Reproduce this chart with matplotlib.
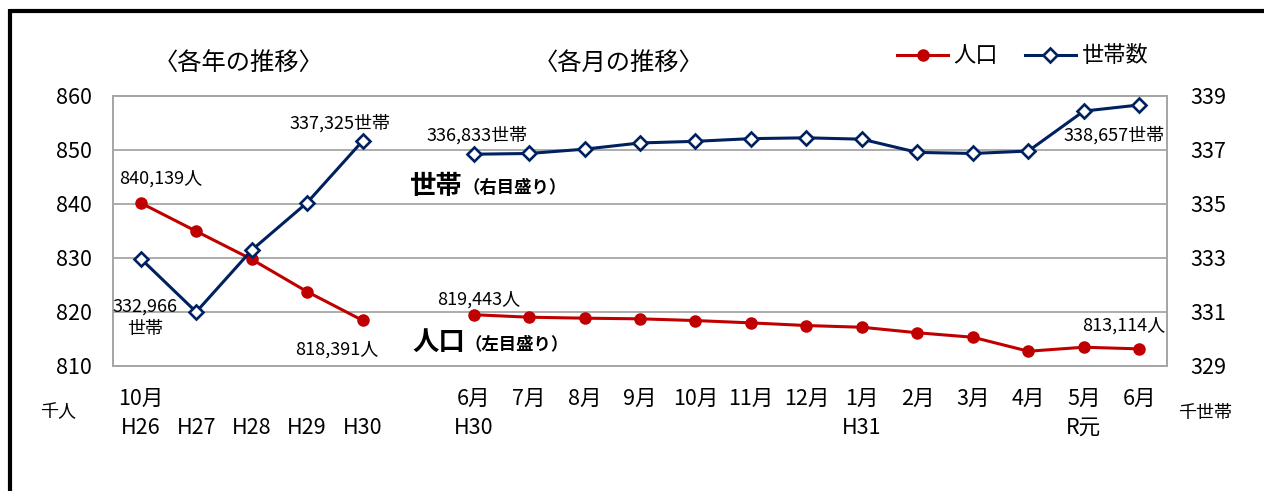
import matplotlib
matplotlib.use("Agg")
import matplotlib.pyplot as plt
from matplotlib.lines import Line2D

plt.rcParams['font.family'] = ['Noto Sans CJK JP', 'DejaVu Sans']

# ---- data ----
year_labels = ["H26", "H27", "H28", "H29", "H30"]
year_month = ["10月", "", "", "", ""]
month_labels = ["6月", "7月", "8月", "9月", "10月", "11月", "12月",
                "1月", "2月", "3月", "4月", "5月", "6月"]
month_era = ["H30", "", "", "", "", "", "", "H31", "", "", "", "R元", ""]

pop_year = [840.139, 834.9, 829.7, 823.7, 818.391]          # 千人
pop_month = [819.443, 818.98, 818.80, 818.68, 818.36, 817.93, 817.44,
             817.12, 816.10, 815.27, 812.68, 813.42, 813.114]
hh_year = [332.966, 330.99, 333.28, 335.04, 337.325]          # 千世帯
hh_month = [336.833, 336.86, 337.02, 337.25, 337.31, 337.41, 337.44,
            337.39, 336.90, 336.86, 336.95, 338.43, 338.657]

left_ticks = [810, 820, 830, 840, 850, 860]
right_ticks = [329, 331, 333, 335, 337, 339]

RED = "#C00000"
NAVY = "#002060"
GRID = "#A6A6A6"

W, H = 1264, 491
fig = plt.figure(figsize=(W / 100, H / 100), dpi=100)

def fx(px):
    return px / W

def fy(py):
    return 1 - py / H

ax = fig.add_axes([fx(113), fy(365.7), fx(1167) - fx(113), fy(95.7) - fy(365.7)])
ax2 = ax.twinx()

xy = list(range(len(pop_year)))
xm = [len(pop_year) + 1 + i for i in range(len(pop_month))]

# population
ax.plot(xy, pop_year, color=RED, lw=2.2, marker="o", ms=8, zorder=3)
ax.plot(xm, pop_month, color=RED, lw=2.2, marker="o", ms=8, zorder=3)
# households
mk = dict(marker="D", ms=7.5, mfc="white", mec=NAVY, mew=1.9)
ax2.plot(xy, hh_year, color=NAVY, lw=2.2, zorder=3, **mk)
ax2.plot(xm, hh_month, color=NAVY, lw=2.2, zorder=3, **mk)

ax.set_xlim(-0.5, xm[-1] + 0.5)
ax.set_ylim(left_ticks[0], left_ticks[-1])
ax2.set_ylim(right_ticks[0], right_ticks[-1])
ax.set_yticks(left_ticks)
ax2.set_yticks(right_ticks)
ax.grid(axis="y", color=GRID, lw=1.3)
ax.set_axisbelow(True)

xt = xy + xm
xl = [f"{m}\n{e}" for m, e in zip(year_month + month_labels, year_labels + month_era)]
ax.set_xticks(xt)
ax.set_xticklabels(xl, fontsize=15.5, linespacing=1.4)
ax.tick_params(axis="x", length=0, pad=16)
ax.tick_params(axis="y", length=0, pad=15, labelsize=15.5)
ax2.tick_params(axis="y", length=0, pad=17, labelsize=15.5)

for a in (ax, ax2):
    for s in a.spines.values():
        s.set_color(GRID)
        s.set_linewidth(1.3)

# data labels
def lab(a, x, v, unit, dx, dy):
    a.annotate(f"{int(round(v * 1000)):,}{unit}", xy=(x, v), xytext=(dx, dy),
               textcoords="offset pixels", ha="center", va="center", fontsize=13)

lab(ax, xy[0], pop_year[0], "人", 20, 24)
lab(ax, xy[-1], pop_year[-1], "人", -26, -29)
lab(ax, xm[0], pop_month[0], "人", 5, 15)
lab(ax, xm[-1], pop_month[-1], "人", -16, 23)
lab(ax2, xy[-1], hh_year[-1], "世帯", -23, 18)
lab(ax2, xm[0], hh_month[0], "世帯", 3, 19)
lab(ax2, xm[-1], hh_month[-1], "世帯", -25, -30)
ax2.annotate(f"{int(round(hh_year[0] * 1000)):,}\n世帯", xy=(xy[0], hh_year[0]),
             xytext=(4, -59), textcoords="offset pixels", ha="center", va="center",
             fontsize=13, linespacing=1.3)

# series captions
fig.text(fx(409), fy(186), "世帯", fontsize=19, fontweight="bold", ha="left", va="center")
fig.text(fx(462), fy(188), "（右目盛り）", fontsize=12.5, fontweight="bold", ha="left", va="center")
fig.text(fx(412), fy(342), "人口", fontsize=19, fontweight="bold", ha="left", va="center")
fig.text(fx(464), fy(344), "（左目盛り）", fontsize=12.5, fontweight="bold", ha="left", va="center")

# titles
fig.text(fx(239), fy(63), "〈各年の推移〉", fontsize=17.5, ha="center", va="center")
fig.text(fx(619), fy(63), "〈各月の推移〉", fontsize=17.5, ha="center", va="center")

# units
fig.text(fx(58), fy(412), "千人", fontsize=13, ha="center", va="center")
fig.text(fx(1205), fy(413), "千世帯", fontsize=13, ha="center", va="center")

# legend
handles = [Line2D([], [], color=RED, lw=2.2, marker="o", ms=8),
           Line2D([], [], color=NAVY, lw=2.2, **mk)]
fig.legend(handles, ["人口", "世帯数"], loc="center left",
           bbox_to_anchor=(fx(897), fy(56)), ncol=2, frameon=False,
           fontsize=16, handlelength=2.3, handletextpad=0.25,
           columnspacing=1.2, borderpad=0, borderaxespad=0, numpoints=1)

# outer frame (top and left)
fig.add_artist(Line2D([fx(9.5), 1], [fy(10.5), fy(10.5)], color="black", lw=3,
                      transform=fig.transFigure, solid_capstyle="butt"))
fig.add_artist(Line2D([fx(9.5), fx(9.5)], [fy(9), 0], color="black", lw=3,
                      transform=fig.transFigure, solid_capstyle="butt"))

fig.savefig("out.png", dpi=100)
